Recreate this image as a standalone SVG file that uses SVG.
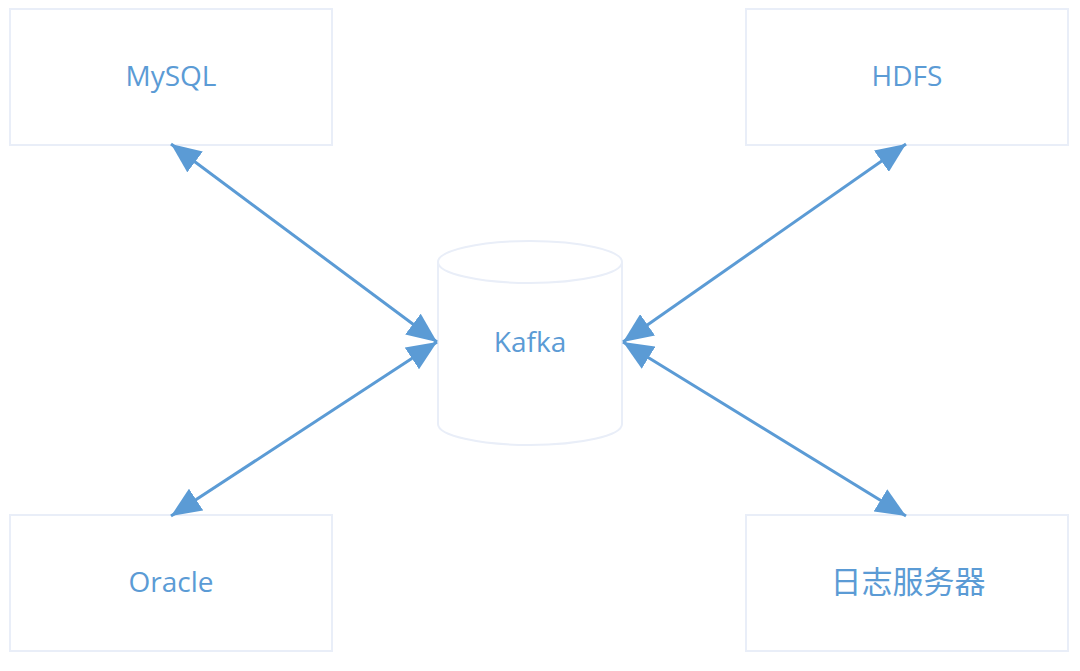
<svg xmlns="http://www.w3.org/2000/svg" width="1080" height="671" viewBox="0 0 1080 671">
<style>
.box{fill:#ffffff;stroke:#e9eef8;stroke-width:2}
.lbl{font-family:"Open Sans","Noto Sans","Noto Sans CJK SC",sans-serif;font-size:28px;fill:#5b9bd5;text-anchor:middle}
.cjk{font-family:"Noto Sans CJK SC",sans-serif;font-size:31px}
.conn{stroke:#5b9bd5;stroke-width:3;fill:none;marker-start:url(#ah);marker-end:url(#ah)}
</style>
<defs>
<marker id="ah" viewBox="0 0 30 26" refX="30" refY="13" markerWidth="30" markerHeight="26" markerUnits="userSpaceOnUse" orient="auto-start-reverse">
<path d="M0,0 L30,13 L0,26 z" fill="#5b9bd5"/>
</marker>
</defs>
<rect width="1080" height="671" fill="#ffffff"/>
<g id="mysql"><rect class="box" x="10" y="9" width="322" height="136"/><text class="lbl" x="171" y="86">MySQL</text></g>
<g id="hdfs"><rect class="box" x="746" y="9" width="322" height="136"/><text class="lbl" x="907" y="86">HDFS</text></g>
<g id="oracle"><rect class="box" x="10" y="515" width="322" height="136"/><text class="lbl" x="171" y="592">Oracle</text></g>
<g id="logserver"><rect class="box" x="746" y="515" width="322" height="136"/><text class="lbl cjk" x="908" y="593">日志服务器</text></g>
<g id="kafka">
<path class="box" d="M438,262 L438,424 A92,21 0 0 0 622,424 L622,262"/>
<ellipse class="box" cx="530" cy="262" rx="92" ry="21"/>
<text class="lbl" x="530" y="352">Kafka</text>
</g>
<g id="connectors">
<line class="conn" x1="171" y1="144" x2="437" y2="342"/>
<line class="conn" x1="171" y1="516" x2="437" y2="342"/>
<line class="conn" x1="906" y1="144" x2="623" y2="342"/>
<line class="conn" x1="906" y1="516" x2="623" y2="342"/>
</g>
</svg>
